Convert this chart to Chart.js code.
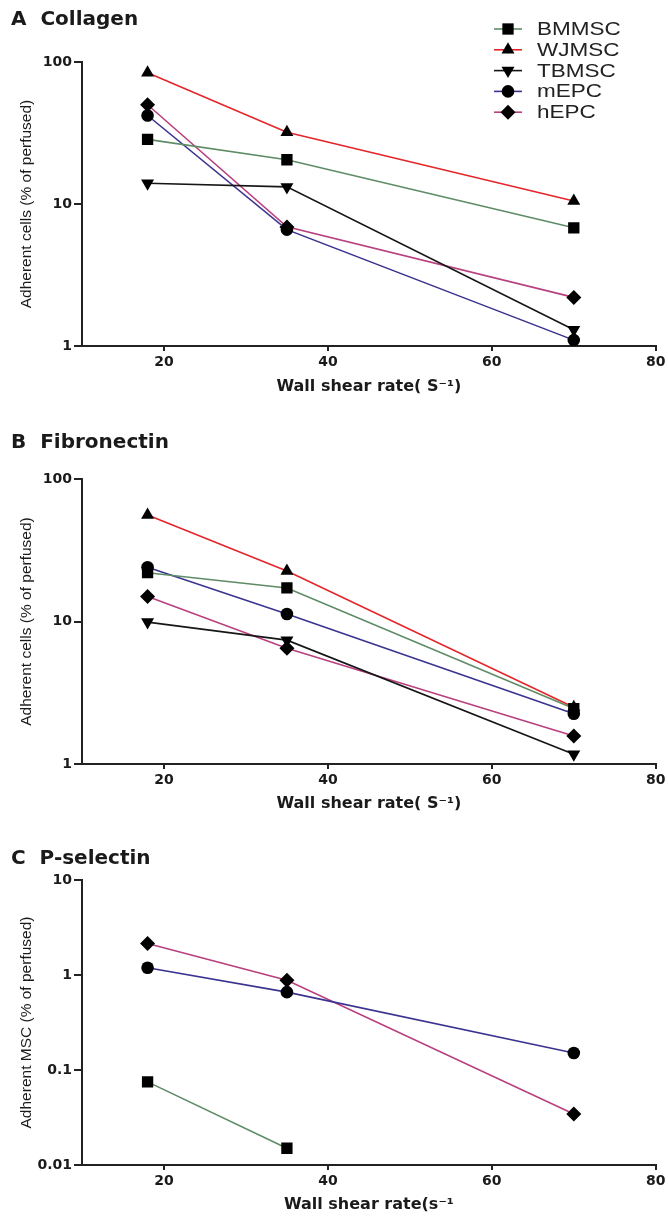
<!DOCTYPE html>
<html>
<head>
<meta charset="utf-8">
<script src="https://cdn.jsdelivr.net/npm/chart.js@4.4.1/dist/chart.umd.min.js"></script>
<style>
  body { margin: 0; background: #fff; }
  #wrap { position: relative; width: 668px; height: 1218px; }
  canvas { position: absolute; left: 0; }
</style>
</head>
<body>
<div id="wrap">
  <canvas id="chartA" width="668" height="410" style="top:0px"></canvas>
  <canvas id="chartB" width="668" height="405" style="top:420px"></canvas>
  <canvas id="chartC" width="668" height="383" style="top:835px"></canvas>
</div>
<script>
// wall shear rates (s-1), same for every panel
let shearRates = [18, 35, 70];
let cellTypes = ["BMMSC", "WJMSC", "TBMSC", "mEPC", "hEPC"];

// A - collagen, adherent cells (% of perfused)
let collagenBM = [28.5, 20.5, 6.8];
let collagenWJ = [84, 32, 10.5];
let collagenTB = [14, 13.2, 1.3];
let collagenMEPC = [42, 6.6, 1.1];
let collagenHEPC = [50, 6.9, 2.2];

// B - fibronectin
let fibroBM = [22, 17.2, 2.45];
let fibroWJ = [56, 22.6, 2.5];
let fibroTB = [9.9, 7.4, 1.17];
let fibroMEPC = [24, 11.3, 2.25];
let fibroHEPC = [15, 6.5, 1.57];

// C - P-selectin (only three cell types, BMMSC not at 70)
let pselBM = [0.075, 0.015];
let pselMEPC = [1.19, 0.66, 0.151];
let pselHEPC = [2.15, 0.88, 0.0345];

let xTicks = [20, 40, 60, 80];
let yTicksAB = [1, 10, 100];
let yTicksC = [0.01, 0.1, 1, 10];

let lineColors = ["#5e8c66", "#e4262b", "#161616", "#3a3490", "#b9407f"];
let markers = ["rect", "triangle", "triangle", "circle", "rectRot"];
let markerRot = [0, 0, 180, 0, 0];
let markerSize = [8, 7.5, 7.5, 6.3, 7.5];

function makeSet(i, values) {
  return {
    label: cellTypes[i],
    data: values.map((v, k) => ({x: shearRates[k], y: v})),
    borderColor: lineColors[i],
    borderWidth: 1.6,
    backgroundColor: "#000",
    pointBackgroundColor: "#000",
    pointBorderColor: "#000",
    pointBorderWidth: 0,
    pointStyle: markers[i],
    pointRotation: markerRot[i],
    pointRadius: markerSize[i],
    pointHoverRadius: markerSize[i]
  };
}

// little legend drawn in the top right, like the original figure
const boxLegend = {
  id: "boxLegend",
  afterDraw(chart, args, opts) {
    if (!opts.show) return;
    let ctx = chart.ctx;
    ctx.save();
    chart.data.datasets.forEach((ds, i) => {
      let y = opts.y + i * opts.gap;
      ctx.strokeStyle = ds.borderColor;
      ctx.lineWidth = 1.6;
      ctx.beginPath();
      ctx.moveTo(opts.x, y);
      ctx.lineTo(opts.x + 28, y);
      ctx.stroke();
      ctx.fillStyle = "#000";
      Chart.helpers.drawPoint(ctx, {
        pointStyle: ds.pointStyle, rotation: ds.pointRotation,
        radius: ds.pointRadius, borderWidth: 0
      }, opts.x + 14, y);
      ctx.save();
      ctx.translate(opts.x + 43, y);
      ctx.scale(1.25, 1);
      ctx.fillStyle = "#222";
      ctx.font = "18px 'Liberation Sans'";
      ctx.textBaseline = "middle";
      ctx.fillText(ds.label, 0, 1);
      ctx.restore();
    });
    ctx.restore();
  }
};

function makeChart(id, cfg) {
  new Chart(document.getElementById(id), {
    type: "line",
    data: { datasets: cfg.sets },
    plugins: [boxLegend],
    options: {
      responsive: false,
      animation: false,
      devicePixelRatio: 1,
      layout: { padding: { left: 11, right: 12, top: 0, bottom: 0 } },
      plugins: {
        legend: { display: false },
        tooltip: { enabled: false },
        title: {
          display: true,
          text: cfg.title,
          align: "start",
          color: "#1a1a1a",
          font: { family: "'DejaVu Sans'", size: 20, weight: "bold", lineHeight: 1.2 },
          padding: cfg.titlePad
        },
        boxLegend: cfg.legend || { show: false }
      },
      scales: {
        x: {
          type: "linear",
          min: 10,
          max: 80,
          afterBuildTicks: s => { s.ticks = xTicks.map(v => ({value: v})); },
          afterFit: s => { s.height = cfg.xHeight; },
          border: { display: true, color: "#222", width: 2 },
          grid: { drawOnChartArea: false, drawTicks: true, tickLength: 5, color: "#222", lineWidth: 2 },
          ticks: {
            padding: 2.5,
            color: "#1a1a1a",
            font: { family: "'DejaVu Sans'", size: 14, weight: "bold" }
          },
          title: {
            display: true,
            text: cfg.xTitle,
            color: "#1a1a1a",
            font: { family: "'DejaVu Sans'", size: 16, weight: "bold", lineHeight: 1.2 },
            padding: { top: 0, bottom: cfg.xTitlePad }
          }
        },
        y: {
          type: "logarithmic",
          min: cfg.yTicks[0],
          max: cfg.yTicks[cfg.yTicks.length - 1],
          afterBuildTicks: s => { s.ticks = cfg.yTicks.map(v => ({value: v})); },
          afterFit: s => { s.width = 71; },
          border: { display: true, color: "#222", width: 2 },
          grid: { drawOnChartArea: false, drawTicks: true, tickLength: 8, color: "#222", lineWidth: 2 },
          ticks: {
            padding: 2,
            color: "#1a1a1a",
            font: { family: "'DejaVu Sans'", size: 14, weight: "bold" },
            callback: v => String(v)
          },
          title: {
            display: true,
            text: cfg.yTitle,
            color: "#1a1a1a",
            font: { family: "'Liberation Sans'", size: 15.5, lineHeight: 1.2 },
            padding: { top: 6.7, bottom: 0 }
          }
        }
      }
    }
  });
}

makeChart("chartA", {
  title: "A  Collagen",
  titlePad: { top: 8, bottom: 30 },
  sets: [makeSet(0, collagenBM), makeSet(1, collagenWJ), makeSet(2, collagenTB),
         makeSet(3, collagenMEPC), makeSet(4, collagenHEPC)],
  yTicks: yTicksAB,
  yTitle: "Adherent cells (% of perfused)",
  xTitle: "Wall shear rate( S\u207B\u00B9)",
  xHeight: 64,
  xTitlePad: 13.4,
  legend: { show: true, x: 494, y: 29, gap: 20.8 }
});

makeChart("chartB", {
  title: "B  Fibronectin",
  titlePad: { top: 11, bottom: 24 },
  sets: [makeSet(0, fibroBM), makeSet(1, fibroWJ), makeSet(2, fibroTB),
         makeSet(3, fibroMEPC), makeSet(4, fibroHEPC)],
  yTicks: yTicksAB,
  yTitle: "Adherent cells (% of perfused)",
  xTitle: "Wall shear rate( S\u207B\u00B9)",
  xHeight: 61,
  xTitlePad: 11.4
});

makeChart("chartC", {
  title: "C  P-selectin",
  titlePad: { top: 12, bottom: 9 },
  sets: [makeSet(0, pselBM), makeSet(3, pselMEPC), makeSet(4, pselHEPC)],
  yTicks: yTicksC,
  yTitle: "Adherent MSC (% of perfused)",
  xTitle: "Wall shear rate(s\u207B\u00B9",
  xHeight: 53,
  xTitlePad: 3.4
});
</script>
</body>
</html>
